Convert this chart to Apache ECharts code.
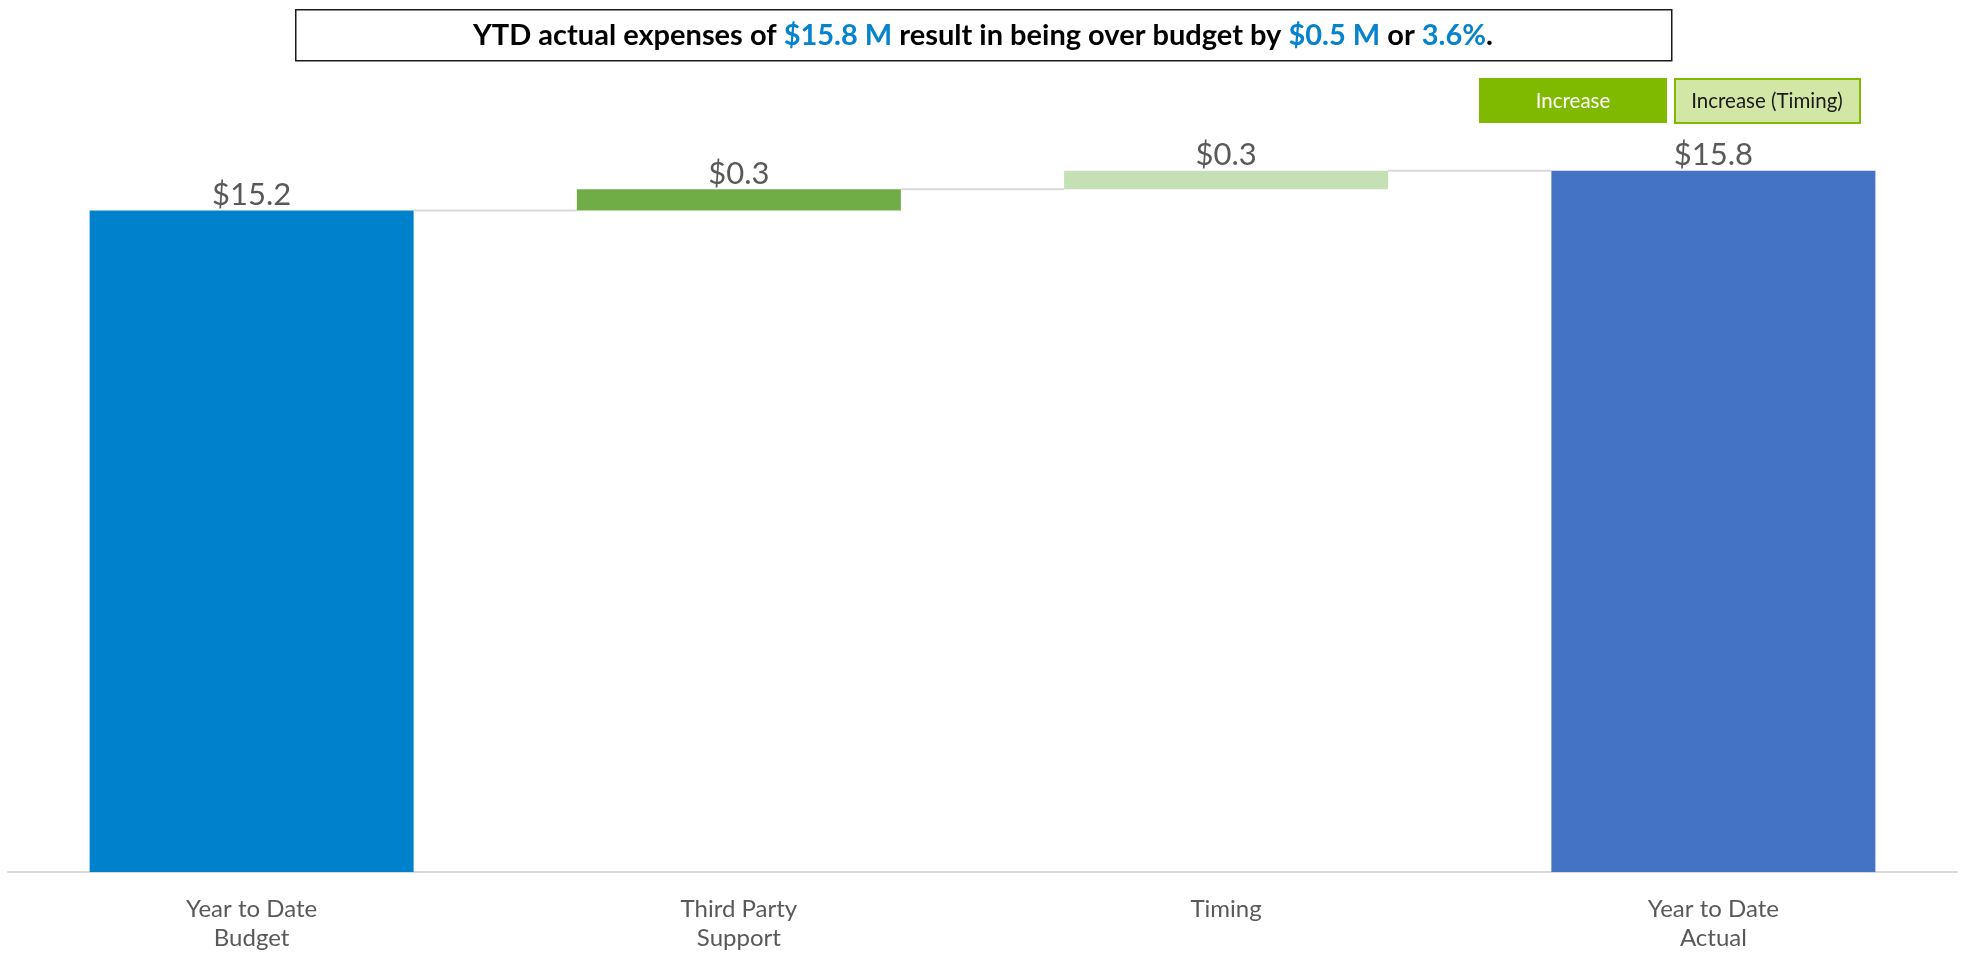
<!DOCTYPE html>
<html>
<head>
<meta charset="utf-8">
<script src="https://cdn.jsdelivr.net/npm/echarts@6/dist/echarts.min.js"></script>
<style>
html,body{margin:0;padding:0;background:#fff;}
#c{width:1967px;height:953px;}
</style>
</head>
<body>
<div id="c"></div>
<script>
// ---- data ----
var categories = ['Year to Date\nBudget', 'Third Party\nSupport', 'Timing', 'Year to Date\nActual'];
var values = [15.24, 0.3, 0.26, 15.8];
var kinds = ['total', 'increase', 'timing', 'total'];
var barColors = ['#0081CB', '#70AD47', '#C5E0B4', '#4472C4'];
var legendItems = ['Increase', 'Increase (Timing)'];
var titleParts = [
  ['b', 'YTD actual expenses of '], ['h', '$15.8 M'], ['b', ' result in being over budget by '],
  ['h', '$0.5 M'], ['b', ' or '], ['h', '3.6%'], ['b', '.']
];

// ---- derived waterfall structure ----
var base = [], levels = [], running = 0;
for (var i = 0; i < values.length; i++) {
  if (kinds[i] === 'total') { base.push('-'); running = values[i]; }
  else { base.push(running); running += values[i]; }
  levels.push(running);
}
var connectors = [];
for (var j = 0; j < values.length - 1; j++) connectors.push([j, levels[j]]);

var FONT = 'Lato, "Noto Sans", sans-serif';
var BARW = 0.665;

var chart = echarts.init(document.getElementById('c'));
var titleText = titleParts.map(function (p) { return '{' + p[0] + '|' + p[1] + '}'; }).join('');

chart.setOption({
  animation: false,
  backgroundColor: '#ffffff',
  grid: { left: 8, right: 10, top: 100, bottom: 75, containLabel: false },
  xAxis: {
    type: 'category',
    data: categories,
    axisLine: { lineStyle: { color: '#D9D9D9', width: 2 } },
    axisTick: { show: false },
    axisLabel: { color: '#595959', fontFamily: FONT, fontSize: 24, lineHeight: 29, margin: 23 }
  },
  yAxis: {
    type: 'value', min: 5.9, max: 16.8, show: false,
    splitLine: { show: false }
  },
  series: [
    {
      type: 'bar', stack: 'w', barWidth: (BARW * 100) + '%',
      itemStyle: { color: 'transparent' },
      data: base, silent: true
    },
    {
      type: 'bar', stack: 'w', barWidth: (BARW * 100) + '%',
      data: values.map(function (v, k) { return { value: v, itemStyle: { color: barColors[k] } }; }),
      label: {
        show: true, position: 'top', distance: 0,
        color: '#595959', fontFamily: FONT, fontSize: 31,
        formatter: function (p) { return '$' + values[p.dataIndex].toFixed(1); }
      }
    },
    {
      type: 'custom',
      data: connectors,
      z: 1,
      renderItem: function (params, api) {
        var idx = api.value(0), lvl = api.value(1);
        var p1 = api.coord([idx, lvl]);
        var p2 = api.coord([idx + 1, lvl]);
        var bw = api.size([1, 0])[0] * BARW;
        return {
          type: 'line',
          shape: { x1: p1[0] + bw / 2, y1: p1[1], x2: p2[0] - bw / 2, y2: p2[1] },
          style: { stroke: '#D9D9D9', lineWidth: 2 }
        };
      }
    }
  ],
  graphic: [
    { type: 'rect', left: 295, top: 9, shape: { width: 1376, height: 51 },
      style: { fill: '#fff', stroke: '#1a1a1a', lineWidth: 1.5 } },
    { type: 'text', x: 983, y: 36,
      style: {
        text: titleText, fontFamily: FONT, fontSize: 29, fontWeight: 'bold', fill: '#000',
        align: 'center', verticalAlign: 'middle',
        rich: {
          b: { fontFamily: FONT, fontSize: 29, fontWeight: 'bold', fill: '#000000' },
          h: { fontFamily: FONT, fontSize: 29, fontWeight: 'bold', fill: '#0683CC' }
        }
      } },
    { type: 'rect', left: 1479, top: 78, shape: { width: 188, height: 45 },
      style: { fill: '#7FBA00' } },
    { type: 'text', x: 1573, y: 101,
      style: { text: legendItems[0], fontFamily: FONT, fontSize: 20.5, fill: '#ffffff', align: 'center', verticalAlign: 'middle' } },
    { type: 'rect', left: 1674, top: 78, shape: { width: 185, height: 44 },
      style: { fill: '#D2E6A6', stroke: '#7FBA00', lineWidth: 2 } },
    { type: 'text', x: 1767, y: 101,
      style: { text: legendItems[1], fontFamily: FONT, fontSize: 20.5, fill: '#1a1a1a', align: 'center', verticalAlign: 'middle' } }
  ]
});
</script>
</body>
</html>
